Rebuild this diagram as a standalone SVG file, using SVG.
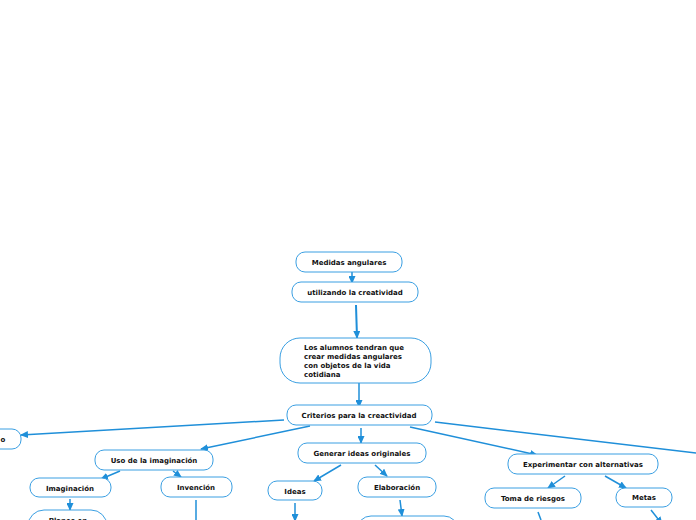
<svg xmlns="http://www.w3.org/2000/svg" width="696" height="520" viewBox="0 0 696 520">
<defs>
<marker id="ah" markerWidth="8" markerHeight="7" refX="7" refY="3.5" orient="auto" markerUnits="userSpaceOnUse">
<path d="M0,0 L8,3.5 L0,7 Z" fill="#1f8fd9"/>
</marker>
<style>
.n rect{fill:#fff;stroke:#3a9fe2;stroke-width:1}
.n text{font-family:"DejaVu Sans",Verdana,sans-serif;font-weight:bold;font-size:7px;fill:#111;text-anchor:middle}
.n text.l{text-anchor:start}
#conn path{fill:none;stroke:#1f8fd9;stroke-width:1.5;marker-end:url(#ah)}
#conn path.t{stroke-width:2}
#conn path.p{marker-end:none}
</style>
</defs>
<rect width="696" height="520" fill="#fff"/>
<g id="conn">
<path d="M352,272 L352,283"/>
<path class="t" d="M356,305 L357,338"/>
<path d="M359,383 L359,407"/>
<path d="M284,420 L21,435"/>
<path d="M310,426 L201,449"/>
<path d="M361,428 L361,443"/>
<path d="M410,427 L537,455"/>
<path class="p" d="M435,422 L696,453"/>
<path d="M120,471 L101,479"/>
<path d="M173,471 L181,477"/>
<path d="M70,499 L70,510"/>
<path class="p" d="M196,500 L196,520"/>
<path d="M341,465 L314,481"/>
<path d="M375,465 L387,476"/>
<path d="M295,503 L295,521"/>
<path d="M400,500 L402,516"/>
<path d="M565,476 L548,488"/>
<path d="M605,476 L626,488"/>
<path class="p" d="M538,512 L541,520"/>
<path d="M651,510 L662,524"/>
</g>
<g id="n1" class="n"><rect x="296" y="252" width="106" height="20" rx="9"/><text x="349" y="265">Medidas angulares</text></g>
<g id="n2" class="n"><rect x="292" y="282" width="126" height="20" rx="9"/><text x="355" y="295">utilizando la creatividad</text></g>
<g id="n3" class="n"><rect x="280" y="338" width="151" height="45" rx="20"/><text class="l" x="304" y="350">Los alumnos tendran que</text><text class="l" x="304" y="359">crear medidas angulares</text><text class="l" x="304" y="368">con objetos de la vida</text><text class="l" x="304" y="377">cotidiana</text></g>
<g id="n4" class="n"><rect x="287" y="405" width="145" height="20" rx="9"/><text x="359" y="418">Criterios para la creactividad</text></g>
<g id="n5" class="n"><rect x="-80" y="429" width="101" height="20" rx="9"/><text x="3" y="442">o</text></g>
<g id="n6" class="n"><rect x="95" y="450" width="118" height="20" rx="9"/><text x="154" y="463">Uso de la imaginación</text></g>
<g id="n7" class="n"><rect x="30" y="478" width="81" height="19" rx="9"/><text x="70" y="491">Imaginación</text></g>
<g id="n8" class="n"><rect x="161" y="477" width="71" height="20" rx="9"/><text x="196" y="490">Invención</text></g>
<g id="n9" class="n"><rect x="28" y="510" width="79" height="40" rx="16"/><text x="68" y="523">Planes en</text></g>
<g id="n10" class="n"><rect x="298" y="443" width="128" height="20" rx="9"/><text x="362" y="456">Generar ideas originales</text></g>
<g id="n11" class="n"><rect x="268" y="481" width="54" height="19" rx="9"/><text x="295" y="494">Ideas</text></g>
<g id="n12" class="n"><rect x="358" y="477" width="78" height="20" rx="9"/><text x="397" y="490">Elaboración</text></g>
<g id="n13" class="n"><rect x="357" y="516" width="101" height="30" rx="14"/></g>
<g id="n14" class="n"><rect x="508" y="454" width="150" height="20" rx="9"/><text x="583" y="467">Experimentar con alternativas</text></g>
<g id="n15" class="n"><rect x="485" y="488" width="96" height="20" rx="9"/><text x="533" y="501">Toma de riesgos</text></g>
<g id="n16" class="n"><rect x="616" y="488" width="56" height="19" rx="9"/><text x="644" y="500">Metas</text></g>
</svg>
